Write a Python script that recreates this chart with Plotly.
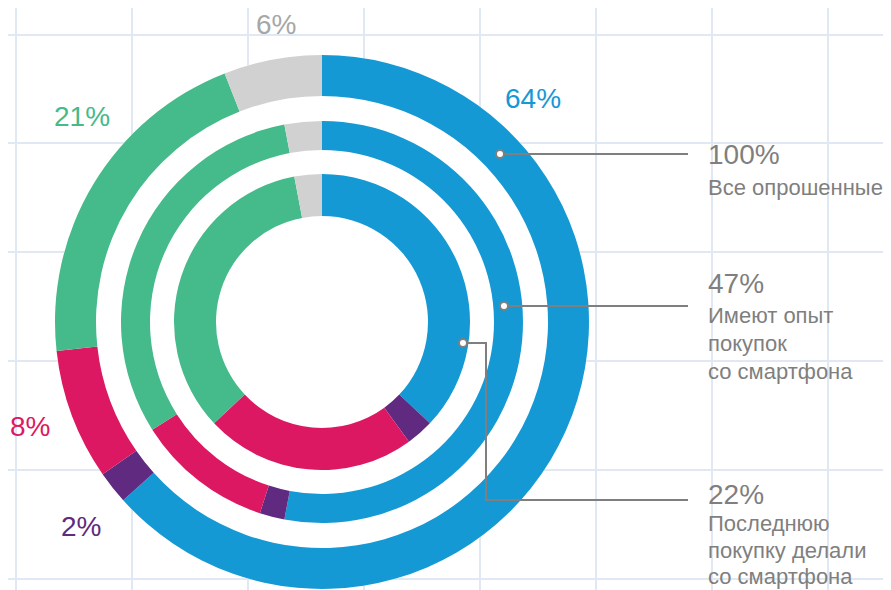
import plotly.graph_objects as go

W, H = 891, 590
OFF = 8  # отступ body на странице

# сегменты по часовой стрелке от 12 часов
segments = ["Купили со смартфона", "Прочее", "Планшет", "Компьютер", "Нет ответа"]
colors = ["#1599d5", "#5f2a7f", "#dd1862", "#45ba8a", "#d0d1d0"]

outer_vals = [64, 2, 8, 21, 6]
middle_vals = [53, 2, 11, 31, 3]
inner_vals = [37, 3, 23, 34, 3]

outer_labels = ["64%", "2%", "8%", "21%", "6%"]

group_pcts = ["100%", "47%", "22%"]
group_texts = [
    ["Все опрошенные"],
    ["Имеют опыт", "покупок", "со смартфона"],
    ["Последнюю", "покупку делали", "со смартфона"],
]

grid_x = [16, 132, 248, 364, 480, 596, 712, 828]
grid_y = [35, 143, 252, 361, 470, 579]

CX, CY = 322, 322
rings = [  # (значения, внешний радиус, внутренний радиус)
    (outer_vals, 267, 226),
    (middle_vals, 201, 172),
    (inner_vals, 148, 106),
]


def disk(r):
    return dict(x=[(CX - OFF - r) / W, (CX - OFF + r) / W],
                y=[1 - (CY - OFF + r) / H, 1 - (CY - OFF - r) / H])


fig = go.Figure()

# пустой след, чтобы появились оси с сеткой
fig.add_trace(go.Scatter(x=[None], y=[None], mode="markers",
                         hoverinfo="skip", showlegend=False))

# белая подложка под кольцами, чтобы скрыть сетку
fig.add_trace(go.Pie(
    values=[1], marker=dict(colors=["white"], line=dict(width=0)),
    textinfo="none", hoverinfo="skip", showlegend=False,
    domain=disk(267), sort=False,
))

for vals, r_out, r_in in rings:
    fig.add_trace(go.Pie(
        labels=segments, values=vals, hole=r_in / r_out,
        marker=dict(colors=colors, line=dict(width=0)),
        sort=False, direction="clockwise", rotation=0,
        textinfo="none", showlegend=False,
        domain=disk(r_out),
    ))

# подписи долей внешнего кольца
label_pos = [(533, 98), (81, 526), (30, 426), (82, 116), (276, 24)]
label_colors = ["#1599d5", "#5f2a7f", "#dd1862", "#45ba8a", "#a7a7a7"]
annotations = []
for txt, (x, y), c in zip(outer_labels, label_pos, label_colors):
    annotations.append(dict(x=x, y=y, text=txt, showarrow=False,
                            font=dict(size=28, color=c)))

# подписи справа
pct_y = [154, 283, 494]
line_ys = [[187], [315, 343, 371], [523, 550, 576]]
for pct, py, lines, ys in zip(group_pcts, pct_y, group_texts, line_ys):
    annotations.append(dict(x=706, y=py, text=pct, showarrow=False,
                            xanchor="left", font=dict(size=28, color="#7f7f7f")))
    for t, ly in zip(lines, ys):
        annotations.append(dict(x=706, y=ly, text=t, showarrow=False,
                                xanchor="left", font=dict(size=22, color="#7f7f7f")))

# выноски
gray = "#7f7f7f"
shapes = [
    dict(type="line", x0=500, y0=154, x1=688, y1=154, line=dict(color=gray, width=2)),
    dict(type="line", x0=504, y0=306, x1=688, y1=306, line=dict(color=gray, width=2)),
    dict(type="path", path="M 463 343 L 486 343 L 486 500 L 688 500",
         line=dict(color=gray, width=2)),
]
for x, y in [(500, 154), (504, 306), (463, 343)]:
    shapes.append(dict(type="circle", x0=x - 4, x1=x + 4, y0=y - 4, y1=y + 4,
                       fillcolor="white", line=dict(color=gray, width=2)))
for s in shapes:
    s["layer"] = "above"

fig.update_layout(
    width=W, height=H,
    margin=dict(l=0, r=0, t=0, b=0),
    paper_bgcolor="white", plot_bgcolor="white",
    font=dict(family="Liberation Sans, Arial, sans-serif"),
    annotations=annotations, shapes=shapes,
    xaxis=dict(range=[OFF, W + OFF], tickvals=grid_x, showticklabels=False, ticks="",
               showgrid=True, gridcolor="#e0e8f4", gridwidth=2, zeroline=False,
               showline=False, fixedrange=True),
    yaxis=dict(range=[H + OFF, OFF], tickvals=grid_y, showticklabels=False, ticks="",
               showgrid=True, gridcolor="#e0e8f4", gridwidth=2, zeroline=False,
               showline=False, fixedrange=True),
    showlegend=False,
)

fig.write_html("out.html")
